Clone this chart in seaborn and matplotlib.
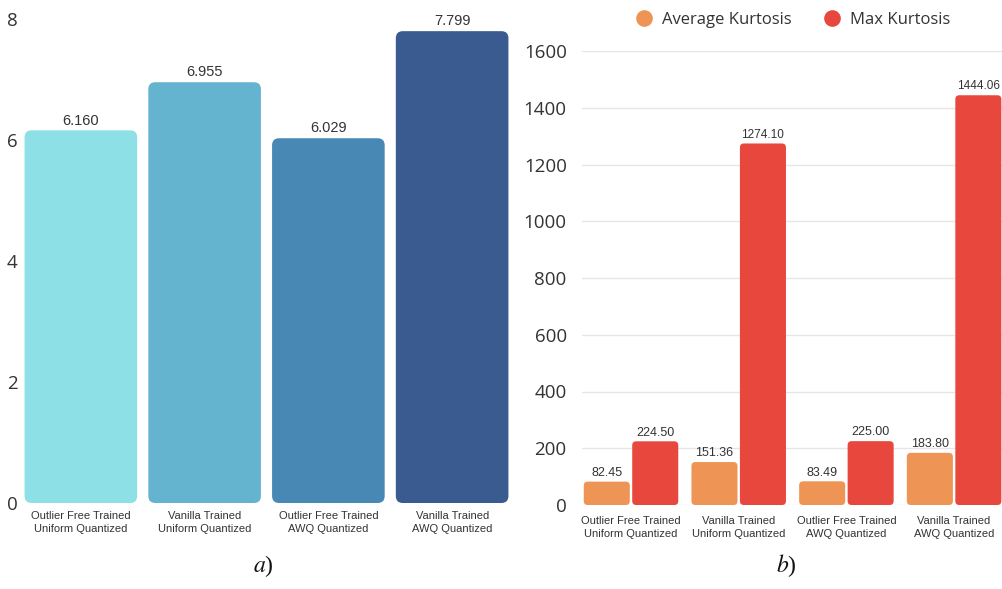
import matplotlib
matplotlib.use("Agg")
import matplotlib.pyplot as plt
from matplotlib.patches import FancyBboxPatch
from matplotlib.lines import Line2D
import seaborn as sns
import pandas as pd

# ---- data -------------------------------------------------------------
categories = [
    "Outlier Free Trained\nUniform Quantized",
    "Vanilla Trained\nUniform Quantized",
    "Outlier Free Trained\nAWQ Quantized",
    "Vanilla Trained\nAWQ Quantized",
]
perplexity = [6.160, 6.955, 6.029, 7.799]
perplexity_labels = ["6.160", "6.955", "6.029", "7.799"]

series_names = ["Average Kurtosis", "Max Kurtosis"]
avg_kurtosis = [82.45, 151.36, 83.49, 183.80]
max_kurtosis = [224.50, 1274.10, 225.00, 1444.06]

left_yticks = [0, 2, 4, 6, 8]
right_yticks = [0, 200, 400, 600, 800, 1000, 1200, 1400, 1600]

blue_palette = ["#8DE1E6", "#64B4D0", "#4788B5", "#3A5B90"]
kurt_palette = ["#EE9556", "#E8473D"]

# ---- style ------------------------------------------------------------
sns.set_theme(style="white")
plt.rcParams["font.family"] = ["Liberation Sans", "DejaVu Sans"]
plt.rcParams["mathtext.fontset"] = "stix"
TEXT = "#333333"

W, H = 1003, 589
fig = plt.figure(figsize=(W / 100, H / 100), dpi=100)
fig.patch.set_facecolor("white")


def px_axes(x0, y0, x1, y1):
    return fig.add_axes([x0 / W, 1 - y1 / H, (x1 - x0) / W, (y1 - y0) / H])


def round_bars(ax, radius_px):
    """Swap the rectangular bars for rounded ones with identical geometry."""
    fig.canvas.draw()
    bb = ax.get_window_extent()
    x0, x1 = ax.get_xlim()
    y0, y1 = ax.get_ylim()
    xpp = (x1 - x0) / bb.width
    ypp = (y1 - y0) / bb.height
    aspect = ypp / xpp
    bars = list(ax.patches)
    for p in bars:
        x, y = p.get_x(), p.get_y()
        w, h = p.get_width(), p.get_height()
        fb = FancyBboxPatch(
            (x, y), w, h,
            boxstyle=f"round,pad=0,rounding_size={radius_px * xpp}",
            mutation_aspect=aspect,
            facecolor=p.get_facecolor(), edgecolor="none", linewidth=0,
            zorder=p.get_zorder(),
        )
        p.remove()
        ax.add_patch(fb)


# ---- panel a: perplexity ----------------------------------------------
ax1 = px_axes(19, 19, 514, 503)
sns.barplot(x=categories, y=perplexity, hue=categories, palette=blue_palette,
            width=0.91, legend=False, ax=ax1, saturation=1)
ax1.set_xlim(-0.5, 3.5)
ax1.set_ylim(0, 8)
ax1.set_yticks(left_yticks)
ax1.set_yticklabels([str(t) for t in left_yticks], fontfamily="Open Sans",
                    fontsize=13.5, color=TEXT)
ax1.tick_params(axis="y", length=0, pad=1)
ax1.tick_params(axis="x", length=0, pad=6)
ax1.set_xticks(range(len(categories)))
ax1.set_xticklabels(categories, fontsize=8, color=TEXT, linespacing=1.35)
for s in ax1.spines.values():
    s.set_visible(False)
ax1.set_xlabel("")
ax1.set_ylabel("")
for i, (v, lab) in enumerate(zip(perplexity, perplexity_labels)):
    ax1.annotate(lab, (i, v), xytext=(0, 2), textcoords="offset points",
                 ha="center", va="bottom", fontsize=10.5, color=TEXT)
round_bars(ax1, 7)

# ---- panel b: kurtosis ------------------------------------------------
df = pd.DataFrame({
    "config": categories * 2,
    "series": [series_names[0]] * 4 + [series_names[1]] * 4,
    "value": avg_kurtosis + max_kurtosis,
})
ax2 = px_axes(582, 51, 1003, 505)
sns.barplot(data=df, x="config", y="value", hue="series", palette=kurt_palette,
            width=0.9, gap=0.05, ax=ax2, saturation=1, legend=False, zorder=3)
ax2.set_xlim(-0.455, 3.454)
ax2.set_ylim(0, 1600)
ax2.set_yticks(right_yticks)
ax2.set_yticklabels([str(t) for t in right_yticks], fontfamily="Open Sans",
                    fontsize=13.5, color=TEXT)
ax2.tick_params(axis="y", length=0, pad=11)
ax2.tick_params(axis="x", length=0, pad=8)
ax2.set_xticks(range(len(categories)))
ax2.set_xticklabels(categories, fontsize=8, color=TEXT, linespacing=1.35)
ax2.grid(axis="y", color="#E6E6E6", linewidth=1, zorder=0)
ax2.set_axisbelow(True)
for s in ax2.spines.values():
    s.set_visible(False)
ax2.set_xlabel("")
ax2.set_ylabel("")

for bar, v in zip(ax2.patches, avg_kurtosis + max_kurtosis):
    cx = bar.get_x() + bar.get_width() / 2
    ax2.annotate(f"{v:.2f}", (cx, bar.get_height()), xytext=(0, 2),
                 textcoords="offset points", ha="center", va="bottom",
                 fontsize=8.5 if v >= 1000 else 9, color=TEXT)
round_bars(ax2, 4)

handles = [Line2D([0], [0], marker="o", linestyle="none", markersize=12,
                  markerfacecolor=c, markeredgecolor="none") for c in kurt_palette]
fig.legend(handles, series_names, loc="center", bbox_to_anchor=(789 / W, 1 - 20 / H),
           ncol=2, frameon=False, handletextpad=0.1, columnspacing=1.4,
           prop={"family": "Open Sans", "size": 12}, labelcolor=TEXT)

# ---- panel captions ---------------------------------------------------
fig.text(263 / W, 1 - 566 / H, r"$a$)", ha="center", va="center",
         fontsize=17, fontfamily="Liberation Serif", color="#111111")
fig.text(786 / W, 1 - 566 / H, r"$b$)", ha="center", va="center",
         fontsize=17, fontfamily="Liberation Serif", color="#111111")

fig.savefig("out.png", dpi=100, facecolor="white")
